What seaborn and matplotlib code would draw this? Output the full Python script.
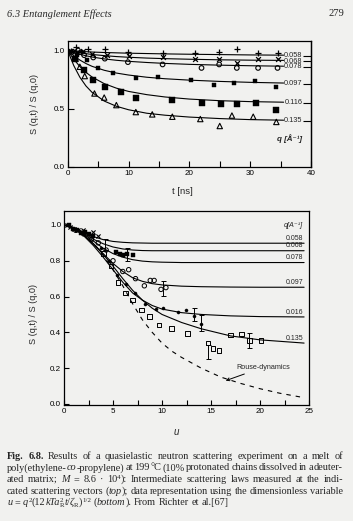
import matplotlib
matplotlib.use("Agg")
import matplotlib.pyplot as plt
import numpy as np
import pandas as pd
import seaborn as sns
from matplotlib.ticker import MultipleLocator, FormatStrFormatter

# ---------------- data : top panel (S(q,t)/S(q,0) vs t) ----------------
q_values = ["0.058", "0.068", "0.078", "0.097", "0.116", "0.135"]
top_label_levels = [0.955, 0.908, 0.860, 0.715, 0.550, 0.395]

t_fit = [0, 1, 2, 3, 4, 6, 8, 10, 13, 16, 20, 25, 30, 35.5]
fit_058 = [1.0, 0.997, 0.993, 0.99, 0.987, 0.983, 0.98, 0.977, 0.974, 0.971, 0.968, 0.965, 0.962, 0.96]
fit_068 = [1.0, 0.99, 0.981, 0.973, 0.966, 0.956, 0.948, 0.942, 0.935, 0.93, 0.925, 0.92, 0.917, 0.915]
fit_078 = [1.0, 0.983, 0.968, 0.955, 0.944, 0.928, 0.916, 0.907, 0.897, 0.889, 0.881, 0.874, 0.869, 0.865]
fit_097 = [1.0, 0.955, 0.918, 0.888, 0.864, 0.83, 0.806, 0.789, 0.77, 0.757, 0.745, 0.734, 0.726, 0.72]
fit_116 = [1.0, 0.925, 0.862, 0.812, 0.772, 0.715, 0.676, 0.648, 0.62, 0.6, 0.582, 0.568, 0.56, 0.555]
fit_135 = [1.0, 0.87, 0.77, 0.695, 0.64, 0.565, 0.52, 0.49, 0.46, 0.443, 0.427, 0.414, 0.405, 0.40]

t_058 = [0.5, 1.3, 2.2, 3.4, 6.1, 9.9, 15.6, 21.0, 24.9, 27.8, 31.3, 34.5]
s_058 = [1.0, 1.03, 0.99, 1.01, 1.01, 0.99, 0.98, 0.98, 0.99, 1.01, 0.98, 0.98]
t_068 = [0.6, 1.5, 2.5, 4.0, 6.5, 10.0, 15.6, 21.0, 24.9, 27.8, 31.3, 34.5]
s_068 = [1.0, 0.99, 1.0, 0.97, 0.96, 0.95, 0.94, 0.93, 0.93, 0.89, 0.93, 0.93]
t_078 = [0.8, 1.7, 2.7, 4.2, 6.1, 9.9, 15.6, 22.0, 24.9, 27.8, 31.3, 34.5]
s_078 = [0.99, 1.0, 0.96, 0.94, 0.93, 0.90, 0.88, 0.85, 0.88, 0.85, 0.85, 0.85]
t_097 = [1.5, 3.1, 5.0, 7.4, 11.2, 14.8, 20.2, 24.0, 27.3, 30.8, 34.3]
s_097 = [0.96, 0.92, 0.85, 0.81, 0.765, 0.77, 0.75, 0.70, 0.72, 0.74, 0.69]
t_116 = [1.2, 2.7, 4.2, 6.1, 8.8, 11.2, 17.2, 22.1, 25.2, 27.8, 31.0, 34.3]
s_116 = [0.93, 0.83, 0.75, 0.69, 0.645, 0.59, 0.575, 0.545, 0.54, 0.54, 0.55, 0.49]
t_135 = [1.3, 2.0, 2.8, 4.4, 6.0, 8.0, 11.2, 13.9, 17.2, 21.8, 25.0, 27.0, 30.5, 34.3]
s_135 = [0.93, 0.86, 0.78, 0.63, 0.595, 0.53, 0.47, 0.45, 0.43, 0.41, 0.35, 0.44, 0.43, 0.385]

# ---------------- data : bottom panel (vs dimensionless u) ----------------
bottom_labels = ["0.058", "0.068", "0.078", "0.097", "0.016", "0.135"]
u_fit = [0, 1, 2, 3, 4, 5, 6, 7, 8, 9, 10, 12, 14, 17, 20, 24.5]
ufit_058 = [1.0, 0.985, 0.96, 0.935, 0.918, 0.908, 0.903, 0.90, 0.899, 0.898, 0.898, 0.898, 0.898, 0.898, 0.898, 0.898]
ufit_068 = [1.0, 0.985, 0.955, 0.92, 0.895, 0.877, 0.866, 0.86, 0.857, 0.856, 0.856, 0.856, 0.856, 0.856, 0.856, 0.856]
ufit_078 = [1.0, 0.983, 0.95, 0.91, 0.87, 0.84, 0.82, 0.806, 0.798, 0.794, 0.792, 0.79, 0.79, 0.79, 0.79, 0.79]
ufit_097 = [1.0, 0.98, 0.945, 0.895, 0.84, 0.785, 0.74, 0.705, 0.685, 0.672, 0.665, 0.658, 0.655, 0.653, 0.652, 0.652]
ufit_116 = [1.0, 0.98, 0.94, 0.885, 0.82, 0.75, 0.68, 0.62, 0.58, 0.55, 0.53, 0.51, 0.50, 0.492, 0.488, 0.486]
ufit_135 = [1.0, 0.98, 0.945, 0.895, 0.835, 0.77, 0.70, 0.635, 0.58, 0.535, 0.50, 0.455, 0.42, 0.38, 0.358, 0.34]

u_rouse = [0, 1, 2, 3, 4, 5, 6, 7, 8, 9, 10, 11, 12, 14, 16, 18, 20, 22, 24.5]
s_rouse = [1.0, 0.98, 0.95, 0.9, 0.83, 0.75, 0.66, 0.56, 0.47, 0.40, 0.34, 0.295, 0.26, 0.2, 0.15, 0.115, 0.085, 0.06, 0.035]

u_cross = [0.3, 0.6, 1.0, 1.4, 1.9, 2.4, 3.0, 3.5]
s_cross = [1.0, 0.99, 0.98, 0.97, 0.97, 0.95, 0.96, 0.94]
u_sqf = [0.5, 0.9, 1.3, 1.7, 2.1, 2.6, 3.0, 5.3, 5.7, 6.0, 6.4, 7.0]
s_sqf = [1.0, 0.98, 0.97, 0.955, 0.96, 0.95, 0.94, 0.85, 0.84, 0.83, 0.835, 0.83]
u_circ = [1.2, 2.0, 2.8, 3.5, 4.3, 5.0, 6.0, 6.6, 7.3, 8.2, 8.8, 9.2, 9.9, 10.4]
s_circ = [0.97, 0.95, 0.92, 0.90, 0.86, 0.80, 0.74, 0.75, 0.70, 0.66, 0.69, 0.69, 0.64, 0.65]
u_dot = [3.8, 4.6, 5.4, 6.3, 7.2, 8.3, 9.4, 10.1, 11.6, 12.4, 13.3, 14.0]
s_dot = [0.87, 0.80, 0.72, 0.67, 0.62, 0.56, 0.53, 0.535, 0.515, 0.525, 0.49, 0.445]
u_sqo = [4.0, 4.8, 5.5, 6.3, 7.0, 7.9, 8.7, 9.7, 11.0, 12.6, 14.7, 15.2, 15.8, 17.0, 18.1, 18.9, 20.1]
s_sqo = [0.84, 0.77, 0.68, 0.62, 0.58, 0.525, 0.49, 0.44, 0.42, 0.395, 0.34, 0.31, 0.30, 0.385, 0.39, 0.355, 0.355]
u_err = [4.2, 6.4, 10.1, 13.3, 14.0, 14.7, 18.9]
s_err = [0.89, 0.835, 0.645, 0.50, 0.45, 0.29, 0.355]
e_err = [0.03, 0.035, 0.04, 0.035, 0.045, 0.04, 0.04]

# ---------------- style ----------------
sns.set_style("ticks")
BG = "#f1f1ef"
plt.rcParams.update({
    "font.family": ["Liberation Sans", "DejaVu Sans"],
    "mathtext.fontset": "stix",
    "axes.linewidth": 0.9,
    "axes.edgecolor": "black",
    "xtick.color": "black", "ytick.color": "black",
    "xtick.direction": "in", "ytick.direction": "in",
    "xtick.major.width": 0.8, "ytick.major.width": 0.8,
    "xtick.minor.width": 0.8, "ytick.minor.width": 0.8,
})

W, H = 353, 521
fig = plt.figure(figsize=(W / 100, H / 100), dpi=100, facecolor=BG)

def px_axes(l, t, r, b):
    return fig.add_axes([l / W, 1 - b / H, (r - l) / W, (b - t) / H], facecolor=BG)

def scatter(ax, x, y, marker, s, filled=True, lw=0.7):
    if marker in ("+", "x"):
        sns.scatterplot(x=x, y=y, ax=ax, marker=marker, s=s, color="black", linewidth=lw, legend=False)
    elif filled:
        sns.scatterplot(x=x, y=y, ax=ax, marker=marker, s=s, color="black", edgecolor="black", linewidth=0.3, legend=False)
    else:
        sns.scatterplot(x=x, y=y, ax=ax, marker=marker, s=s, facecolors="none", edgecolor="black", linewidth=lw, legend=False)

tick_fs = 5.8

# ================= top panel =================
ax1 = px_axes(67.7, 41, 311, 167)
fits = [fit_058, fit_068, fit_078, fit_097, fit_116, fit_135]
for f in fits:
    sns.lineplot(x=t_fit, y=f, ax=ax1, color="black", lw=0.8, legend=False)
scatter(ax1, t_058, s_058, "+", 22, lw=0.9)
scatter(ax1, t_068, s_068, "x", 12, lw=0.9)
scatter(ax1, t_078, s_078, "o", 11, filled=False, lw=0.8)
scatter(ax1, t_097, s_097, "s", 5)
scatter(ax1, t_116, s_116, "s", 15)
scatter(ax1, t_135, s_135, "^", 15, filled=False, lw=0.8)

ax1.set_xlim(0, 40)
ax1.set_ylim(-0.003, 1.082)
ax1.xaxis.set_major_locator(MultipleLocator(10))
ax1.xaxis.set_minor_locator(MultipleLocator(5))
ax1.yaxis.set_major_locator(MultipleLocator(0.5))
ax1.yaxis.set_major_formatter(FormatStrFormatter("%.1f"))
ax1.tick_params(which="both", length=4.5, labelsize=tick_fs, pad=2)
for q, lev in zip(q_values, top_label_levels):
    ax1.text(38.6, lev, q, ha="right", va="center", fontsize=5.3)
sec = ax1.secondary_yaxis("right")
sec.set_yticks(top_label_levels)
sec.tick_params(direction="in", length=5.5, width=0.8, labelright=False)
ax1.text(38.6, 0.238, "q [Å⁻¹]", ha="right", va="center", fontsize=5.8, fontweight="bold", style="italic")
ax1.set_ylabel("S (q,t) / S (q,0)", fontsize=6.6, labelpad=0)
ax1.yaxis.set_label_coords(-0.12, 0.5)
ax1.set_xlabel("t [ns]", fontsize=6.8)
ax1.xaxis.set_label_coords(0.47, -0.16)

# ================= bottom panel =================
ax2 = px_axes(64, 211, 309, 405)
for f in [ufit_058, ufit_068, ufit_078, ufit_097, ufit_116, ufit_135]:
    sns.lineplot(x=u_fit, y=f, ax=ax2, color="black", lw=0.8, legend=False)
sns.lineplot(x=u_rouse, y=s_rouse, ax=ax2, color="black", lw=0.8, legend=False,
             linestyle=(0, (4, 4.5)))
scatter(ax2, u_cross, s_cross, "x", 9, lw=0.8)
scatter(ax2, u_sqf, s_sqf, "s", 11)
scatter(ax2, u_circ, s_circ, "o", 10, filled=False)
scatter(ax2, u_dot, s_dot, "o", 5)
scatter(ax2, u_sqo, s_sqo, "s", 11, filled=False)
ax2.errorbar(u_err, s_err, yerr=e_err, fmt="none", ecolor="black", elinewidth=0.7, capsize=1.8, capthick=0.7)

ax2.set_xlim(0, 25)
ax2.set_ylim(-0.006, 1.078)
ax2.xaxis.set_major_locator(MultipleLocator(5))
ax2.xaxis.set_minor_locator(MultipleLocator(2.5))
ax2.yaxis.set_major_locator(MultipleLocator(0.2))
ax2.yaxis.set_major_formatter(FormatStrFormatter("%.1f"))
ax2.tick_params(which="both", length=3.5, labelsize=tick_fs, pad=2)
for lab, f in zip(bottom_labels, [ufit_058, ufit_068, ufit_078, ufit_097, ufit_116, ufit_135]):
    ax2.text(24.4, f[-1] + 0.008, lab, ha="right", va="bottom", fontsize=5.0)
ax2.text(24.4, 0.975, "q[A⁻¹]", ha="right", va="bottom", fontsize=5.2, style="italic")
ax2.annotate("Rouse-dynamics", xy=(16.5, 0.13), xytext=(17.6, 0.205),
             fontsize=5.2, ha="left", va="center",
             arrowprops=dict(arrowstyle="->", lw=0.7, color="black", shrinkA=0, shrinkB=0))
ax2.set_ylabel("S (q,t) / S (q,0)", fontsize=6.6, labelpad=0)
ax2.yaxis.set_label_coords(-0.105, 0.47)
ax2.set_xlabel("u", fontsize=7, style="italic")
ax2.xaxis.set_label_coords(0.457, -0.115)

# ================= page text =================
SERIF = ["Liberation Serif", "DejaVu Serif"]
fig.text(7 / W, 1 - 14 / H, "6.3 Entanglement Effects", fontsize=7.5, style="italic",
         family=SERIF, va="center", ha="left")
fig.text(344 / W, 1 - 14 / H, "279", fontsize=7.6, family=SERIF, va="center", ha="right")

renderer = fig.canvas.get_renderer()
CAP_FS = 7.4

def run_props(kind):
    p = dict(family=SERIF, fontsize=CAP_FS, style="normal", weight="normal")
    dy = 0.0
    if kind == "b":
        p["weight"] = "bold"
    elif kind == "i":
        p["style"] = "italic"
    elif kind == "sup":
        p["fontsize"] = CAP_FS * 0.68
        dy = -3.2
    elif kind == "sub":
        p["fontsize"] = CAP_FS * 0.68
        dy = 1.6
    return p, dy

def text_width(s, p):
    t = fig.text(0, 0, s, **p)
    w = t.get_window_extent(renderer).width
    t.remove()
    return w

def token_width(tok):
    w = 0.0
    for s, kind in tok:
        if kind == "stack":
            p, _ = run_props("sup")
            w += max(text_width(s[0], p), text_width(s[1], p))
        else:
            p, _ = run_props(kind)
            w += text_width(s, p)
    return w

def draw_token(tok, x, y):
    for s, kind in tok:
        if kind == "stack":
            p, _ = run_props("sup")
            fig.text(x / W, 1 - (y - 3.2) / H, s[0], va="baseline", ha="left", **p)
            fig.text(x / W, 1 - (y + 1.6) / H, s[1], va="baseline", ha="left", **p)
            x += max(text_width(s[0], p), text_width(s[1], p))
        else:
            p, dy = run_props(kind)
            fig.text(x / W, 1 - (y + dy) / H, s, va="baseline", ha="left", **p)
            x += text_width(s, p)
    return x

def plain(text):
    return [[(w, "n")] for w in text.split()]

caption_lines = [
    [[("Fig.", "b")], [("6.8.", "b")]] + plain("Results of a quasielastic neutron scattering experiment on a melt of"),
    [[("poly(ethylene-", "n"), ("co", "i"), ("-propylene)", "n")]]
    + plain("at 199 °C (10% protonated chains dissolved in a deuter-"),
    plain("ated matrix;") + [[("M", "i")], [("=", "n")], [("8.6", "n")], [("·", "n")],
                            [("10", "n"), ("4", "sup"), ("):", "n")]]
    + plain("Intermediate scattering laws measured at the indi-"),
    plain("cated scattering vectors") + [[("(", "n"), ("top", "i"), (");", "n")]]
    + plain("data representation using the dimensionless variable"),
    [[("u", "i")], [("=", "n")],
     [("q", "i"), ("2", "sup"), ("(12", "n"), ("kTa", "i"), (("2", "R"), "stack"), ("t", "i"),
      ("/", "n"), ("ζ", "i"), ("R", "sub"), (")", "n"), ("1/2", "sup")],
     [("(", "n"), ("bottom", "i"), (").", "n")]] + plain("From Richter et al.[67]"),
]

x_left, x_right = 7.0, 343.0
space_w = text_width("a a", run_props("n")[0]) - text_width("aa", run_props("n")[0])
for i, tokens in enumerate(caption_lines):
    y = 459.0 + 11.5 * i
    widths = [token_width(t) for t in tokens]
    if i < len(caption_lines) - 1:
        gap = (x_right - x_left - sum(widths)) / (len(tokens) - 1)
    else:
        gap = space_w
    x = x_left
    for tok, w in zip(tokens, widths):
        draw_token(tok, x, y)
        x += w + gap

fig.savefig("out.png", dpi=100, facecolor=BG)
